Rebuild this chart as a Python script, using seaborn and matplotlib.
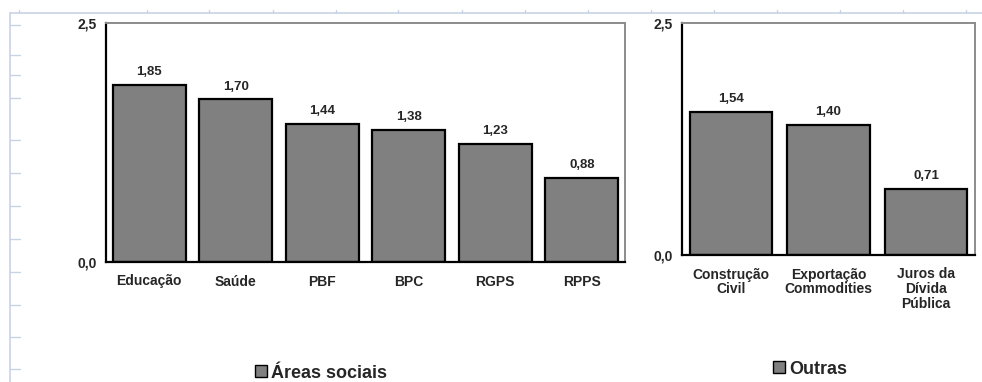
import matplotlib
matplotlib.use("Agg")
import matplotlib.pyplot as plt
from matplotlib.patches import Patch
from matplotlib.lines import Line2D
import seaborn as sns
import pandas as pd

# Data
social_categories = ["Educação", "Saúde", "PBF", "BPC", "RGPS", "RPPS"]
social_values = [1.85, 1.70, 1.44, 1.38, 1.23, 0.88]
other_categories = ["Construção\nCivil", "Exportação\nCommodities", "Juros da\nDívida\nPública"]
other_values = [1.54, 1.40, 0.71]
y_ticks = [0.0, 2.5]
y_tick_labels = ["0,0", "2,5"]
legend_labels = ["Áreas sociais", "Outras"]

sns.set_theme(style="white")
plt.rcParams["font.family"] = ["Liberation Sans", "DejaVu Sans"]
plt.rcParams["font.weight"] = "bold"

BAR = "#808080"
fig = plt.figure(figsize=(9.82, 3.82), dpi=100)

# Light ruler lines along the top and left edges
ruler = "#c9d3e6"
fig.add_artist(Line2D([10 / 982, 1.0], [1 - 13 / 382] * 2, color=ruler, lw=1.2))
fig.add_artist(Line2D([10 / 982] * 2, [0.0, 1 - 13 / 382], color=ruler, lw=1.2))
for xp in [19, 147, 209, 273, 336, 398, 462, 525, 588, 651, 714, 777, 840, 903, 966]:
    fig.add_artist(Line2D([xp / 982] * 2, [1 - 13 / 382, 1 - 10 / 382], color=ruler, lw=1))
for yp in [25, 55, 75, 98, 140, 173, 206, 239, 272, 305, 337, 369]:
    fig.add_artist(Line2D([10 / 982, 20 / 982], [1 - yp / 382] * 2, color=ruler, lw=1))


def draw_panel(ax, cats, vals):
    df = pd.DataFrame({"cat": cats, "val": vals})
    sns.barplot(data=df, x="cat", y="val", color=BAR, edgecolor="black",
                linewidth=1.6, width=0.84, saturation=1, ax=ax)
    n = len(cats)
    ax.set_xlim(-0.5, n - 0.5)
    ax.set_ylim(0, 2.5)
    ax.set_xlabel("")
    ax.set_ylabel("")
    ax.set_yticks(y_ticks)
    ax.set_yticklabels(y_tick_labels, fontsize=10, fontweight="bold")
    ax.set_xticks(range(n))
    ax.set_xticklabels(cats, fontsize=10, fontweight="bold", linespacing=1.05)
    ax.set_xticks([i + 0.5 for i in range(-1, n)], minor=True)
    ax.tick_params(axis="x", which="major", length=0, pad=9)
    ax.tick_params(axis="x", which="minor", direction="inout", length=7, width=1.3, color="black")
    ax.tick_params(axis="y", direction="inout", length=7, width=1.3, color="black", pad=3)
    for side in ["left", "bottom"]:
        ax.spines[side].set_color("black")
        ax.spines[side].set_linewidth(1.6)
    for side in ["top", "right"]:
        ax.spines[side].set_visible(True)
        ax.spines[side].set_color("#8c8c8c")
        ax.spines[side].set_linewidth(1.4)
    for p, v in zip(ax.patches, vals):
        ax.annotate(f"{v:.2f}".replace(".", ","),
                    (p.get_x() + p.get_width() / 2, p.get_height()),
                    xytext=(0, 5), textcoords="offset points",
                    ha="center", va="bottom", fontsize=9.5, fontweight="bold")


ax1 = fig.add_axes([106 / 982, 120 / 382, 519 / 982, 239 / 382])
draw_panel(ax1, social_categories, social_values)

ax2 = fig.add_axes([682 / 982, 127 / 382, 293 / 982, 232 / 382])
draw_panel(ax2, other_categories, other_values)

for label, xc, yc in zip(legend_labels, [321 / 982, 810 / 982], [9 / 382, 13 / 382]):
    fig.legend(handles=[Patch(facecolor=BAR, edgecolor="black", linewidth=1.0)],
               labels=[label], loc="center", bbox_to_anchor=(xc, yc),
               frameon=False, handlelength=0.65, handleheight=0.65,
               handletextpad=0.25, prop={"size": 13, "weight": "bold"})

fig.savefig("out.png", dpi=100)
